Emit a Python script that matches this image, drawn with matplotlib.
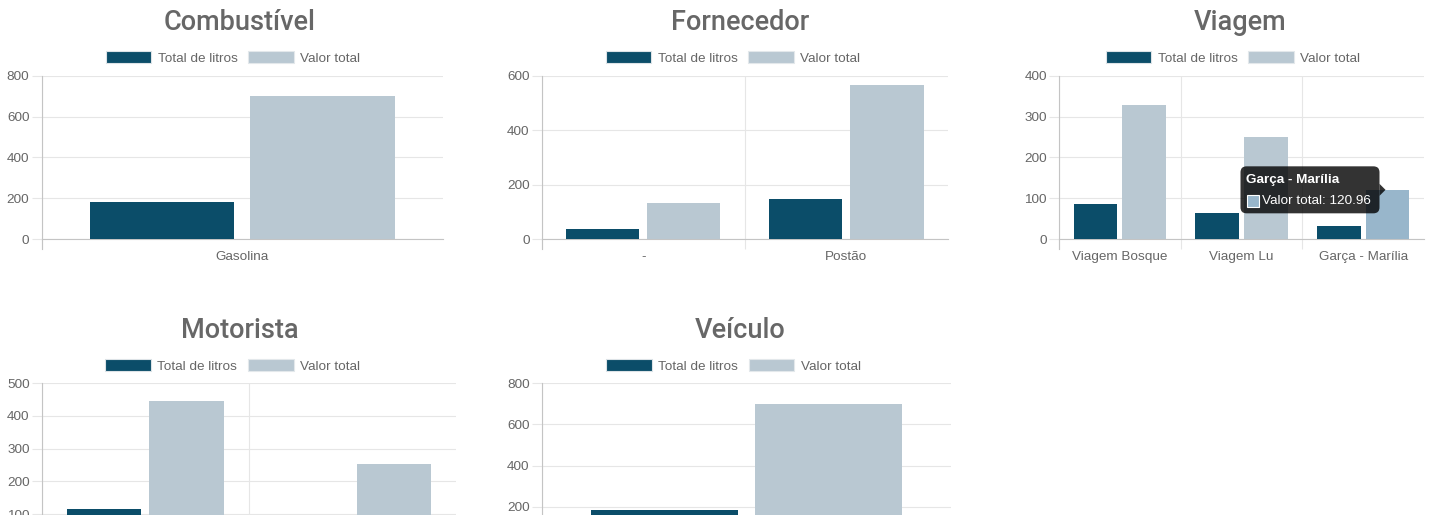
"""Painel de abastecimento: litros e valor total por agrupamento."""

import numpy as np
import matplotlib
matplotlib.use('Agg')
import matplotlib.pyplot as plt
from matplotlib.patches import FancyBboxPatch, Polygon, Rectangle, Patch
from matplotlib.transforms import IdentityTransform

W, H = 1437, 515

# ---- data -------------------------------------------------------------------
comb_cats = ['Gasolina']
comb_litros = [184.5]
comb_valor = [700.6]

forn_cats = ['-', 'Postão']
forn_litros = [37.0, 147.5]
forn_valor = [133.5, 567.0]

viag_cats = ['Viagem Bosque', 'Viagem Lu', 'Garça - Marília']
viag_litros = [87.0, 64.5, 33.0]
viag_valor = [328.5, 251.0, 120.96]

mot_cats = ['Motorista A', 'Motorista B']
mot_litros = [115.5, 69.0]
mot_valor = [446.0, 254.5]

veic_cats = ['Veículo']
veic_litros = [184.5]
veic_valor = [700.6]

series_names = ['Total de litros', 'Valor total']

# ---- style ------------------------------------------------------------------
DARK = '#0b4d69'
LIGHT = '#b9c8d2'
HOVER = '#98b6cb'
TXT = '#666666'
GRID = '#e6e6e6'
AXIS = '#c4c4c4'
FS = 9.7


def px_axes(fig, x0, x1, ytop, ybot):
    """Add axes given pixel box (origin top-left)."""
    return fig.add_axes([x0 / W, 1 - ybot / H, (x1 - x0) / W, (ybot - ytop) / H])


def bar_panel(fig, box, title, cats, litros, valor, ymax, step, title_x, title_y):
    ax = px_axes(fig, *box)
    n = len(cats)
    x = np.arange(n)

    ax.bar(x - 0.2, litros, 0.36, color=DARK, zorder=3)
    bars2 = ax.bar(x + 0.2, valor, 0.36, color=LIGHT, zorder=3)

    ax.set_xlim(-0.5, n - 0.5)
    ax.set_ylim(0, ymax)
    ax.set_yticks(np.arange(0, ymax + 1, step))
    ax.set_axisbelow(True)
    ax.yaxis.grid(True, color=GRID, lw=0.8)

    # category boundaries as gridlines / tick marks, labels at centres
    ax.set_xticks(x, cats, minor=True)
    ax.set_xticks(np.arange(n) - 0.5, [''] * n)
    ax.xaxis.grid(True, which='major', color=GRID, lw=0.8)
    ax.tick_params(axis='x', which='major', length=7.2, width=0.8, color=GRID)
    ax.tick_params(axis='x', which='minor', length=0, pad=8.5,
                   labelsize=FS, labelcolor=TXT)
    ax.tick_params(axis='y', length=7.2, width=0.8, color=GRID, pad=1.5,
                   labelsize=FS, labelcolor=TXT)

    for s in ('top', 'right'):
        ax.spines[s].set_visible(False)
    for s in ('left', 'bottom'):
        ax.spines[s].set_color(AXIS)
        ax.spines[s].set_linewidth(0.8)
    h_px = box[3] - box[2]
    ax.spines['left'].set_bounds(-10.0 / h_px * ymax, ymax)

    fig.text(title_x / W, 1 - title_y / H, title, ha='center', va='center',
             fontsize=19.5, color='#676767', family='Roboto', fontweight='medium')

    handles = [Patch(facecolor=DARK, edgecolor='#dde3e7', lw=0.8),
               Patch(facecolor=LIGHT, edgecolor='#e3e8eb', lw=0.8)]
    fig.legend(handles, series_names, loc='center', ncol=2, frameon=False,
               bbox_to_anchor=((title_x - 7) / W, 1 - (title_y + 35) / H),
               fontsize=FS, labelcolor=TXT, handlelength=3.4, handleheight=1.0,
               handletextpad=0.47, columnspacing=0.8, borderpad=0,
               borderaxespad=0)
    return ax, bars2


plt.rcParams['font.family'] = ['Liberation Sans', 'DejaVu Sans']
fig = plt.figure(figsize=(W / 100, H / 100), dpi=100)

bar_panel(fig, (41.5, 443, 75.7, 239.3), 'Combustível',
          comb_cats, comb_litros, comb_valor, 800, 200, 240, 23)
bar_panel(fig, (541.7, 948, 75.7, 239.3), 'Fornecedor',
          forn_cats, forn_litros, forn_valor, 600, 200, 740, 23)
ax_v, bars_v = bar_panel(fig, (1059, 1424, 75.7, 239.3), 'Viagem',
                         viag_cats, viag_litros, viag_valor, 400, 100, 1240, 23)
bar_panel(fig, (41.7, 456, 383.3, 546.8), 'Motorista',
          mot_cats, mot_litros, mot_valor, 500, 100, 239.7, 331)
bar_panel(fig, (541.7, 951, 383.3, 548), 'Veículo',
          veic_cats, veic_litros, veic_valor, 800, 200, 740.3, 331)

# hovered bar + tooltip on "Garça - Marília"
i_hov = len(viag_cats) - 1
bars_v[i_hov].set_facecolor(HOVER)
tip_x, tip_y = ax_v.transData.transform((i_hov + 0.2, viag_valor[i_hov]))
tip_x -= 2
bw, bh, caret = 139, 47, 6
bx0 = tip_x - caret - bw
by0 = tip_y - bh / 2
ident = IdentityTransform()
fig.add_artist(FancyBboxPatch((bx0, by0), bw, bh,
                              boxstyle='round,pad=0,rounding_size=6',
                              facecolor=(0, 0, 0, 0.8), edgecolor='none',
                              transform=ident, zorder=10))
fig.add_artist(Polygon([(tip_x - caret, tip_y + caret), (tip_x, tip_y),
                        (tip_x - caret, tip_y - caret)], closed=True,
                       facecolor=(0, 0, 0, 0.8), edgecolor='none',
                       transform=ident, zorder=10))
fig.text(bx0 + 6, tip_y + 10, viag_cats[i_hov], transform=ident,
         ha='left', va='center', color='white', fontsize=FS,
         fontweight='bold', zorder=11)
fig.add_artist(Rectangle((bx0 + 6, tip_y - 17), 12, 12, facecolor=HOVER,
                         edgecolor='white', lw=0.8, transform=ident, zorder=11))
fig.text(bx0 + 21, tip_y - 11, f'{series_names[1]}: {viag_valor[i_hov]:.2f}',
         transform=ident, ha='left', va='center', color='white',
         fontsize=FS, zorder=11)

plt.savefig('out.png', dpi=100, facecolor='white')
